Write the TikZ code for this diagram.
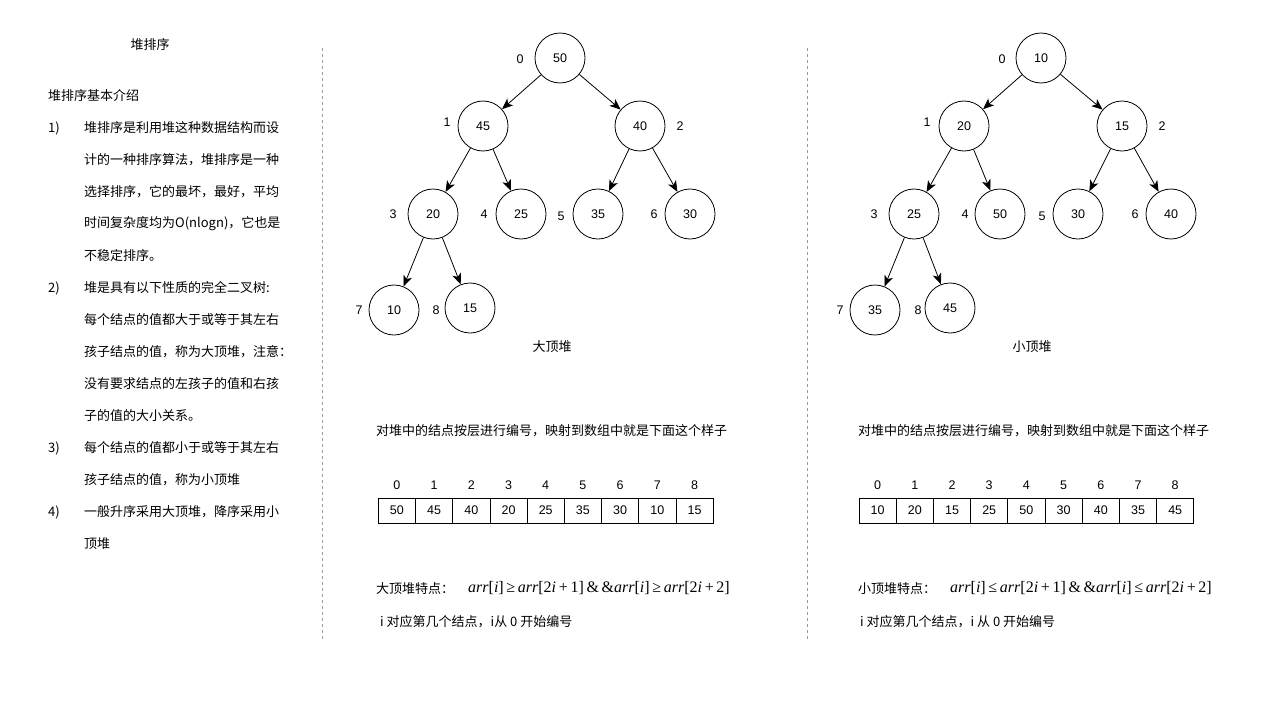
\documentclass[tikz,border=0pt]{standalone}
\usepackage[no-math]{fontspec}
\setmainfont{Liberation Sans}
\newfontfamily\cjk{Noto Sans CJK SC}
\newfontfamily\serif{Liberation Serif}
\usetikzlibrary{arrows.meta}

\tikzset{
  heapnode/.style={draw, circle, minimum size=50pt, inner sep=0pt, line width=0.8pt,
    font=\fontsize{12.5}{14}\selectfont},
  idx/.style={inner sep=0pt, font=\fontsize{12.5}{14}\selectfont},
  edge/.style={line width=0.8pt, -{Stealth[length=11pt,width=9pt,inset=3pt]}},
  txt/.style={anchor=west, inner sep=0pt, font=\cjk\fontsize{13}{15}\selectfont},
  captxt/.style={inner sep=0pt, font=\cjk\fontsize{13}{15}\selectfont},
  cell/.style={draw, minimum width=37.2pt, minimum height=25pt, inner sep=0pt,
    line width=0.8pt, font=\fontsize{12.5}{14}\selectfont},
  sepline/.style={gray!80, dashed, line width=0.7pt},
  formula/.style={anchor=west, inner sep=0pt, font=\serif\fontsize{16}{18}\selectfont}
}
\newcommand{\ar}{\textit{arr}}
\newcommand{\iv}{\textit{i}}

\begin{document}
\begin{tikzpicture}[x=1pt, y=-1pt]
    \useasboundingbox (0,0) rectangle (1280,720);

    % left column: introduction
    \node[captxt] (title) at (150,45) {堆排序};
    \node[txt] (intro) at (48,96) {堆排序基本介绍};
    \node[txt] (n1) at (48,128) {1)};
    \node[txt] (l1) at (84,128) {堆排序是利用堆这种数据结构而设};
    \node[txt] (l2) at (84,160) {计的一种排序算法，堆排序是一种};
    \node[txt] (l3) at (84,192) {选择排序，它的最坏，最好，平均};
    \node[txt] (l4) at (84,224) {时间复杂度均为O(nlogn)，它也是};
    \node[txt] (l5) at (84,256) {不稳定排序。};
    \node[txt] (n2) at (48,288) {2)};
    \node[txt] (l6) at (84,288) {堆是具有以下性质的完全二叉树:};
    \node[txt] (l7) at (84,320) {每个结点的值都大于或等于其左右};
    \node[txt] (l8) at (84,352) {孩子结点的值，称为大顶堆，注意：};
    \node[txt] (l9) at (84,384) {没有要求结点的左孩子的值和右孩};
    \node[txt] (l10) at (84,416) {子的值的大小关系。};
    \node[txt] (n3) at (48,448) {3)};
    \node[txt] (l11) at (84,448) {每个结点的值都小于或等于其左右};
    \node[txt] (l12) at (84,480) {孩子结点的值，称为小顶堆};
    \node[txt] (n4) at (48,512) {4)};
    \node[txt] (l13) at (84,512) {一般升序采用大顶堆，降序采用小};
    \node[txt] (l14) at (84,544) {顶堆};

    % separators
    \draw[sepline] (322,48) -- (322,640);
    \draw[sepline] (807,48) -- (807,640);

    % max heap
    \node[heapnode] (a0) at (560,58) {50};
    \node[heapnode] (a1) at (483,126) {45};
    \node[heapnode] (a2) at (640,126) {40};
    \node[heapnode] (a3) at (433,214) {20};
    \node[heapnode] (a4) at (521,214) {25};
    \node[heapnode] (a5) at (598,214) {35};
    \node[heapnode] (a6) at (690,214) {30};
    \node[heapnode] (a7) at (394,310) {10};
    \node[heapnode] (a8) at (470,308) {15};
    \draw[edge] (a0) -- (a1);
    \draw[edge] (a0) -- (a2);
    \draw[edge] (a1) -- (a3);
    \draw[edge] (a1) -- (a4);
    \draw[edge] (a2) -- (a5);
    \draw[edge] (a2) -- (a6);
    \draw[edge] (a3) -- (a7);
    \draw[edge] (a3) -- (a8);
    \node[idx] (a0i) at (520,59) {0};
    \node[idx] (a1i) at (447,122) {1};
    \node[idx] (a2i) at (680,126) {2};
    \node[idx] (a3i) at (393,214) {3};
    \node[idx] (a4i) at (484,214) {4};
    \node[idx] (a5i) at (561,216) {5};
    \node[idx] (a6i) at (654,214) {6};
    \node[idx] (a7i) at (359,310) {7};
    \node[idx] (a8i) at (436,310) {8};
    \node[captxt] (acap) at (552,347) {大顶堆};

    % min heap
    \node[heapnode] (b0) at (1041,58) {10};
    \node[heapnode] (b1) at (964,126) {20};
    \node[heapnode] (b2) at (1122,126) {15};
    \node[heapnode] (b3) at (914,214) {25};
    \node[heapnode] (b4) at (1000,214) {50};
    \node[heapnode] (b5) at (1078,214) {30};
    \node[heapnode] (b6) at (1171,214) {40};
    \node[heapnode] (b7) at (875,310) {35};
    \node[heapnode] (b8) at (950,308) {45};
    \draw[edge] (b0) -- (b1);
    \draw[edge] (b0) -- (b2);
    \draw[edge] (b1) -- (b3);
    \draw[edge] (b1) -- (b4);
    \draw[edge] (b2) -- (b5);
    \draw[edge] (b2) -- (b6);
    \draw[edge] (b3) -- (b7);
    \draw[edge] (b3) -- (b8);
    \node[idx] (b0i) at (1002,59) {0};
    \node[idx] (b1i) at (927,122) {1};
    \node[idx] (b2i) at (1162,126) {2};
    \node[idx] (b3i) at (874,214) {3};
    \node[idx] (b4i) at (965,214) {4};
    \node[idx] (b5i) at (1042,216) {5};
    \node[idx] (b6i) at (1135,214) {6};
    \node[idx] (b7i) at (840,310) {7};
    \node[idx] (b8i) at (918,310) {8};
    \node[captxt] (bcap) at (1032,347) {小顶堆};

    % arrays
    \node[txt] (anote) at (376,431) {对堆中的结点按层进行编号，映射到数组中就是下面这个样子};
    \node[txt] (bnote) at (858,431) {对堆中的结点按层进行编号，映射到数组中就是下面这个样子};
    \foreach \v [count=\i from 0] in {50,45,40,20,25,35,30,10,15} {
        \node[cell] (ta\i) at (396.9+37.2*\i,510.5) {\v};
        \node[idx] (ta\i i) at (396.9+37.2*\i,485) {\i};
    }
    \foreach \v [count=\i from 0] in {10,20,15,25,50,30,40,35,45} {
        \node[cell] (tb\i) at (877.6+37.2*\i,510.5) {\v};
        \node[idx] (tb\i i) at (877.6+37.2*\i,485) {\i};
    }

    % properties
    \node[txt] (aprop) at (376,589) {大顶堆特点：};
    \node[formula] (aform) at (468,588)
        {\ar[\iv]\,≥\,\ar[2\iv\,+\,1]\,\&\,\&\ar[\iv]\,≥\,\ar[2\iv\,+\,2]};
    \node[txt] (ahint) at (380,622) {i 对应第几个结点，i从 0 开始编号};
    \node[txt] (bprop) at (858,589) {小顶堆特点：};
    \node[formula] (bform) at (950,588)
        {\ar[\iv]\,≤\,\ar[2\iv\,+\,1]\,\&\,\&\ar[\iv]\,≤\,\ar[2\iv\,+\,2]};
    \node[txt] (bhint) at (860,622) {i 对应第几个结点，i 从 0 开始编号};
\end{tikzpicture}
\end{document}
